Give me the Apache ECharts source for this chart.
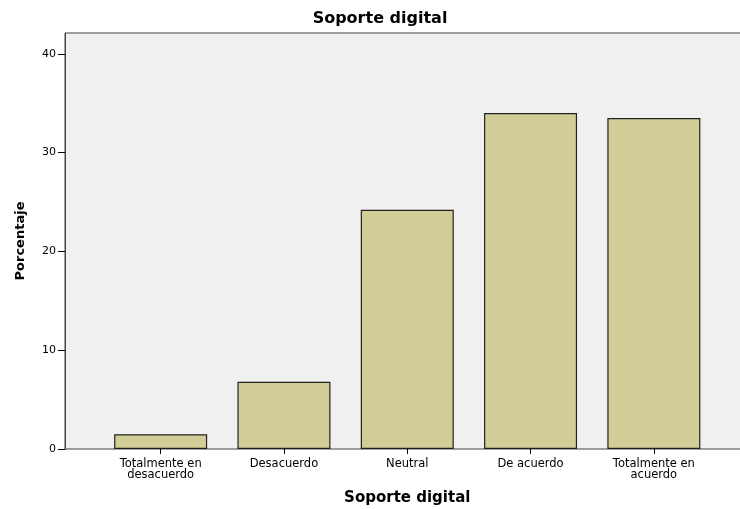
<!DOCTYPE html>
<html>
<head>
<meta charset="utf-8">
<script src="https://cdn.jsdelivr.net/npm/echarts@6/dist/echarts.min.js"></script>
<style>html,body{margin:0;padding:0;background:#fff}#c{width:740px;height:509px}</style>
</head>
<body>
<div id="c"></div>
<script>
var categories = ['Totalmente en\ndesacuerdo', 'Desacuerdo', 'Neutral', 'De acuerdo', 'Totalmente en\nacuerdo'];
var values = [1.5, 6.8, 24.2, 34.0, 33.5];
var yTicks = [0, 10, 20, 30, 40];
var chartTitle = 'Soporte digital';
var xTitle = 'Soporte digital';
var yTitle = 'Porcentaje';

var FONT = 'DejaVu Sans, Verdana, sans-serif';
var YMAX = 42.1;
var chart = echarts.init(document.getElementById('c'));
chart.setOption({
  animation: false,
  backgroundColor: '#ffffff',
  title: {
    text: chartTitle, left: 375, top: 6, textAlign: 'center',
    textStyle: {fontFamily: FONT, fontSize: 16, fontWeight: 'bold', color: '#000'}
  },
  grid: [
    {left: 65, right: -2, top: 33, bottom: 60, show: true, backgroundColor: '#f0f0f0', borderColor: '#444', borderWidth: 1, outerBoundsMode: 'none', containLabel: false},
    {left: 99, right: 24.5, top: 33, bottom: 60, outerBoundsMode: 'none', containLabel: false}
  ],
  xAxis: [
    {gridIndex: 0, type: 'value', min: 0, max: 1, show: false},
    {gridIndex: 1, type: 'category', data: categories,
     axisLine: {show: false},
     axisTick: {show: true, alignWithLabel: true, length: 5, lineStyle: {color: '#000'}},
     axisLabel: {fontFamily: FONT, fontSize: 11.5, color: '#000', margin: 10, lineHeight: 11, interval: 0},
     name: xTitle, nameLocation: 'middle', nameGap: 42,
     nameTextStyle: {fontFamily: FONT, fontSize: 15, fontWeight: 'bold', color: '#000'}}
  ],
  yAxis: [
    {gridIndex: 0, type: 'value', min: 0, max: YMAX,
     splitLine: {show: false},
     axisLine: {show: true, lineStyle: {color: '#444'}},
     axisTick: {show: true, length: 7, customValues: yTicks, lineStyle: {color: '#000'}},
     axisLabel: {fontFamily: FONT, fontSize: 11, color: '#000', margin: 9, customValues: yTicks},
     name: yTitle, nameLocation: 'middle', nameGap: 38, nameRotate: 90,
     nameTextStyle: {fontFamily: FONT, fontSize: 13, fontWeight: 'bold', color: '#000'}},
    {gridIndex: 1, type: 'value', min: 0, max: YMAX, show: false}
  ],
  series: [{
    type: 'bar', xAxisIndex: 1, yAxisIndex: 1, data: values,
    barWidth: 93,
    itemStyle: {color: '#d3ce97', borderColor: '#222', borderWidth: 1.2}
  }]
});
</script>
</body>
</html>
